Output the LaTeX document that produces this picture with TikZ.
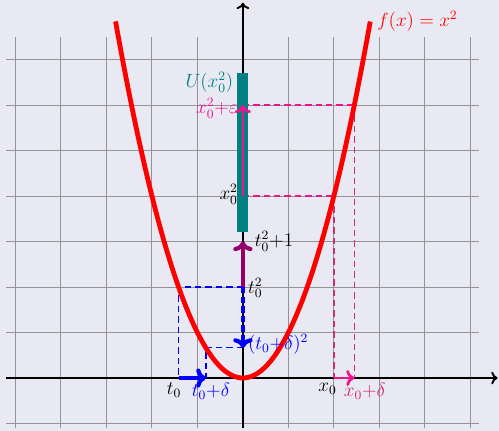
\documentclass[tikz,border=0pt]{standalone}
\usepackage{amsmath}
\usetikzlibrary{arrows.meta}
\definecolor{bgc}{RGB}{233,233,243}
\definecolor{pinkA}{RGB}{238,20,140}
\definecolor{pinkB}{RGB}{205,45,120}
\definecolor{lblpink}{RGB}{210,40,110}
\tikzset{
  gridline/.style={gray!85, line width=0.62pt},
  axisline/.style={black, line width=1.2pt, -{To[length=4pt,width=8pt]}},
  thindash/.style={line width=0.8pt, dash pattern=on 4pt off 2.5pt},
  curve/.style={red, line width=3pt},
  bigarrow/.style={line width=2.6pt, -{To[length=6pt,width=12pt]}},
  midarrow/.style={line width=1.7pt, -{To[length=5pt,width=10pt]}},
  lbl/.style={font=\large, inner sep=3pt},
}
\begin{document}
\begin{tikzpicture}
\fill[bgc] (-5.34,-1.165) rectangle (5.63,8.31);
\useasboundingbox (-5.34,-1.165) rectangle (5.63,8.31);
% grid
\draw[gridline] (-5.2,-1.1) grid[step=1] (5.2,7.5);
% axes
\coordinate (xa) at (-5.2,0);
\coordinate (xb) at (5.6,0);
\coordinate (ya) at (0,-1.1);
\coordinate (yb) at (0,8.25);
\draw[axisline] (xa) -- (xb);
\draw[axisline] (ya) -- (yb);
% key points
\coordinate (O) at (0,0);
\coordinate (T0) at (-1.41421,0);
\coordinate (T0d) at (-0.81421,0);
\coordinate (Yt0) at (0,2);
\coordinate (Yt0d) at (0,0.6629);
\coordinate (Yt1) at (0,3);
\coordinate (P1) at (-1.41421,2);
\coordinate (P2) at (-0.81421,0.6629);
\coordinate (X0) at (2,0);
\coordinate (X0d) at (2.44949,0);
\coordinate (Yx0) at (0,4);
\coordinate (Yx0e) at (0,6);
\coordinate (Q1) at (2,4);
\coordinate (Q2) at (2.44949,6);
% dashed guides
\draw[thindash, blue] (Yt0) -- (P1) -- (T0);
\draw[thindash, blue] (Yt0d) -- (P2) -- (T0d);
\draw[thindash, pinkA] (Yx0) -- (Q1);
\draw[thindash, pinkB] (Q1) -- (X0);
\draw[thindash, pinkA] (Yx0e) -- (Q2);
\draw[thindash, pinkB] (Q2) -- (X0d);
% parabola
\draw[curve] plot[domain=-2.8:2.8, samples=80, smooth] (\x,{\x*\x}) node[right, lbl, red] (flabel) {$f(x)=x^2$};
% teal neighbourhood
\fill[teal] (-0.12,3.2) rectangle (0.12,6.7);
\node[left, lbl, teal] (Ulabel) at (-0.1,6.5) {$U(x_0^2)$};
% arrows
\draw[bigarrow, violet!70!purple] (Yt0) -- (Yt1);
\draw[bigarrow, blue, dash pattern=on 4pt off 2pt] (Yt0) -- (Yt0d);
\draw[bigarrow, blue] (T0) -- (T0d);
\draw[midarrow, pinkA] (Yx0) -- (Yx0e);
\draw[midarrow, pinkA] (X0) -- (X0d);
% labels
\node[left, lbl, pinkA] (lxe) at (0,5.92) {$x_0^2{+}\varepsilon$};
\node[left, lbl] (lx0sq) at (0,4.03) {$x_0^2$};
\node[right, lbl] (lt1) at (0.15,3) {$t_0^2{+}1$};
\node[right, lbl] (lt0sq) at (0,1.98) {$t_0^2$};
\node[right, lbl, blue] (lt0dsq) at (0,0.74) {$(t_0{+}\delta)^2$};
\node[below, lbl] (lt0) at ([xshift=-0.1cm]T0) {$t_0$};
\node[below, lbl, blue] (lt0d) at ([xshift=0.11cm]T0d) {$t_0{+}\delta$};
\node[below, lbl] (lx0) at ([xshift=-0.14cm]X0) {$x_0$};
\node[below, lbl, lblpink] (lx0d) at ([xshift=0.23cm]X0d) {$x_0{+}\delta$};
\end{tikzpicture}
\end{document}
